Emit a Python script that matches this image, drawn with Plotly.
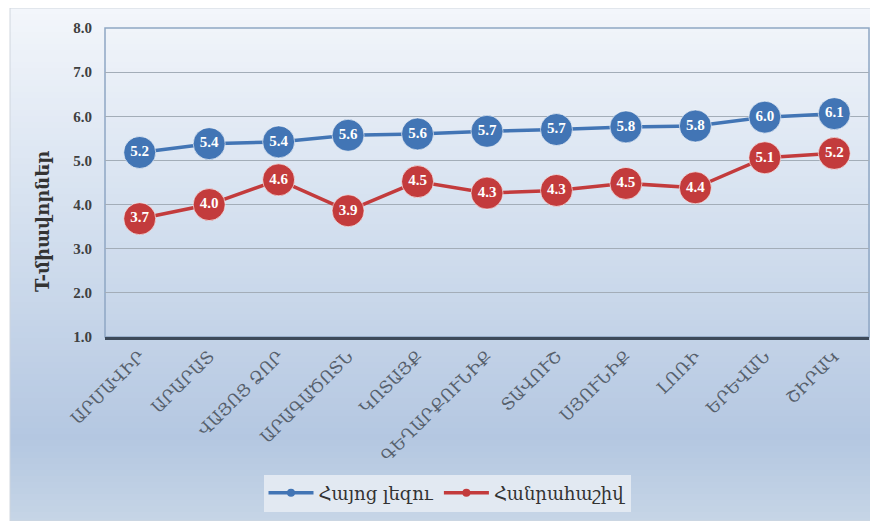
import plotly.graph_objects as go

# regions (marzer) and average T-scores
regions = ["ԱՐՄԱՎԻՐ", "ԱՐԱՐԱՏ", "ՎԱՅՈՑ ՁՈՐ", "ԱՐԱԳԱԾՈՏՆ", "ԿՈՏԱՅՔ", "ԳԵՂԱՐՔՈՒՆԻՔ",
           "ՏԱՎՈՒՇ", "ՍՅՈՒՆԻՔ", "ԼՈՌԻ", "ԵՐԵՎԱՆ", "ՇԻՐԱԿ"]
armenian_lang = [5.18, 5.38, 5.42, 5.57, 5.6, 5.66, 5.7, 5.76, 5.78, 5.98, 6.06]
algebra = [3.68, 4.0, 4.56, 3.86, 4.52, 4.26, 4.32, 4.48, 4.38, 5.06, 5.16]
series_names = ["Հայոց լեզու", "Հանրահաշիվ"]
y_ticks = [1.0, 2.0, 3.0, 4.0, 5.0, 6.0, 7.0, 8.0]
y_title = "T-միավորներ"

BLUE = "#4275b5"
RED = "#c33b3c"

fig = go.Figure()
for name, vals, col in [(series_names[0], armenian_lang, BLUE), (series_names[1], algebra, RED)]:
    fig.add_trace(go.Scatter(
        x=regions, y=vals, name=name, showlegend=False,
        mode="lines+markers+text",
        line=dict(color=col, width=3.5),
        marker=dict(size=32, color=col, line=dict(color="rgba(255,255,255,0.6)", width=1)),
        texttemplate="<b>%{y:.1f}</b>", textposition="middle center",
        textfont=dict(family="Liberation Serif", size=15, color="white"),
        cliponaxis=False,
    ))
    # legend entry with a small marker like the original
    fig.add_trace(go.Scatter(
        x=[regions[0]], y=[None], name=name, mode="lines+markers",
        line=dict(color=col, width=3.5), marker=dict(size=8, color=col),
    ))

# page has an 8px body margin, so the figure is laid out 8px up/left of window coords
# vertical gradient background of the chart area (styling only), in window px
stops = [(8, (243, 246, 251)), (200, (215, 226, 240)), (440, (180, 199, 225)), (521, (198, 213, 230))]
top_px, bot_px = 28, 337
left_px, right_px = 105, 869
def to_py(py):
    return (bot_px - py) / (bot_px - top_px)
def to_px(px):
    return (px - left_px) / (right_px - left_px)
def col_at(py):
    for (a, ca), (b, cb) in zip(stops, stops[1:]):
        if a <= py <= b:
            t = (py - a) / (b - a)
            return "rgb(%d,%d,%d)" % tuple(round(ca[i] + (cb[i] - ca[i]) * t) for i in range(3))
    return "rgb(%d,%d,%d)" % stops[-1][1]

shapes = []
step = 6
py = 8
while py < 521:
    shapes.append(dict(type="rect", xref="paper", yref="paper", layer="below",
                       x0=to_px(10), x1=to_px(880),
                       y0=to_py(min(py + step + 1, 521)), y1=to_py(py),
                       fillcolor=col_at(py + step / 2), line=dict(width=0)))
    py += step
# plot area border (left/top/right)
shapes.append(dict(type="rect", xref="paper", yref="paper", x0=0, x1=1, y0=0, y1=1,
                   line=dict(color="#8fa6c4", width=1.5), layer="below"))
# outer frame
shapes.append(dict(type="rect", xref="paper", yref="paper",
                   x0=to_px(10), x1=to_px(880), y0=to_py(521), y1=to_py(8),
                   line=dict(color="#d0d6de", width=1), layer="below"))

fig.update_layout(
    width=870, height=513,
    margin=dict(l=97, r=9, t=20, b=184),
    paper_bgcolor="white", plot_bgcolor="rgba(0,0,0,0)",
    shapes=shapes,
    showlegend=True,
    legend=dict(orientation="h", x=to_px(447), xanchor="center", y=to_py(493), yanchor="middle",
                bgcolor="#e2e9f2", borderwidth=0,
                font=dict(family="DejaVu Serif", size=18, color="#333333"),
                itemwidth=45),
    xaxis=dict(
        range=[-0.5, 10.5], tickangle=-45, showgrid=False, automargin=False,
        showline=True, linecolor="#3d4a5a", linewidth=2.5, ticks="",
        tickfont=dict(family="DejaVu Serif", size=17, color="#56606c"),
    ),
    yaxis=dict(
        range=[1, 8], tickvals=y_ticks, ticktext=["<b>%.1f</b>" % v for v in y_ticks],
        showgrid=True, gridcolor="#a3adb8", gridwidth=1, zeroline=False, automargin=False,
        tickfont=dict(family="Liberation Serif", size=15, color="#404040"),
        ticks="", ticklabelstandoff=12,
    ),
    annotations=[dict(text="<b>%s</b>" % y_title, textangle=-90, showarrow=False,
                      xref="paper", yref="paper", x=to_px(42), y=to_py(222),
                      xanchor="center", yanchor="middle",
                      font=dict(family="DejaVu Serif", size=18, color="#333333"))],
)

fig.write_html("out.html")
